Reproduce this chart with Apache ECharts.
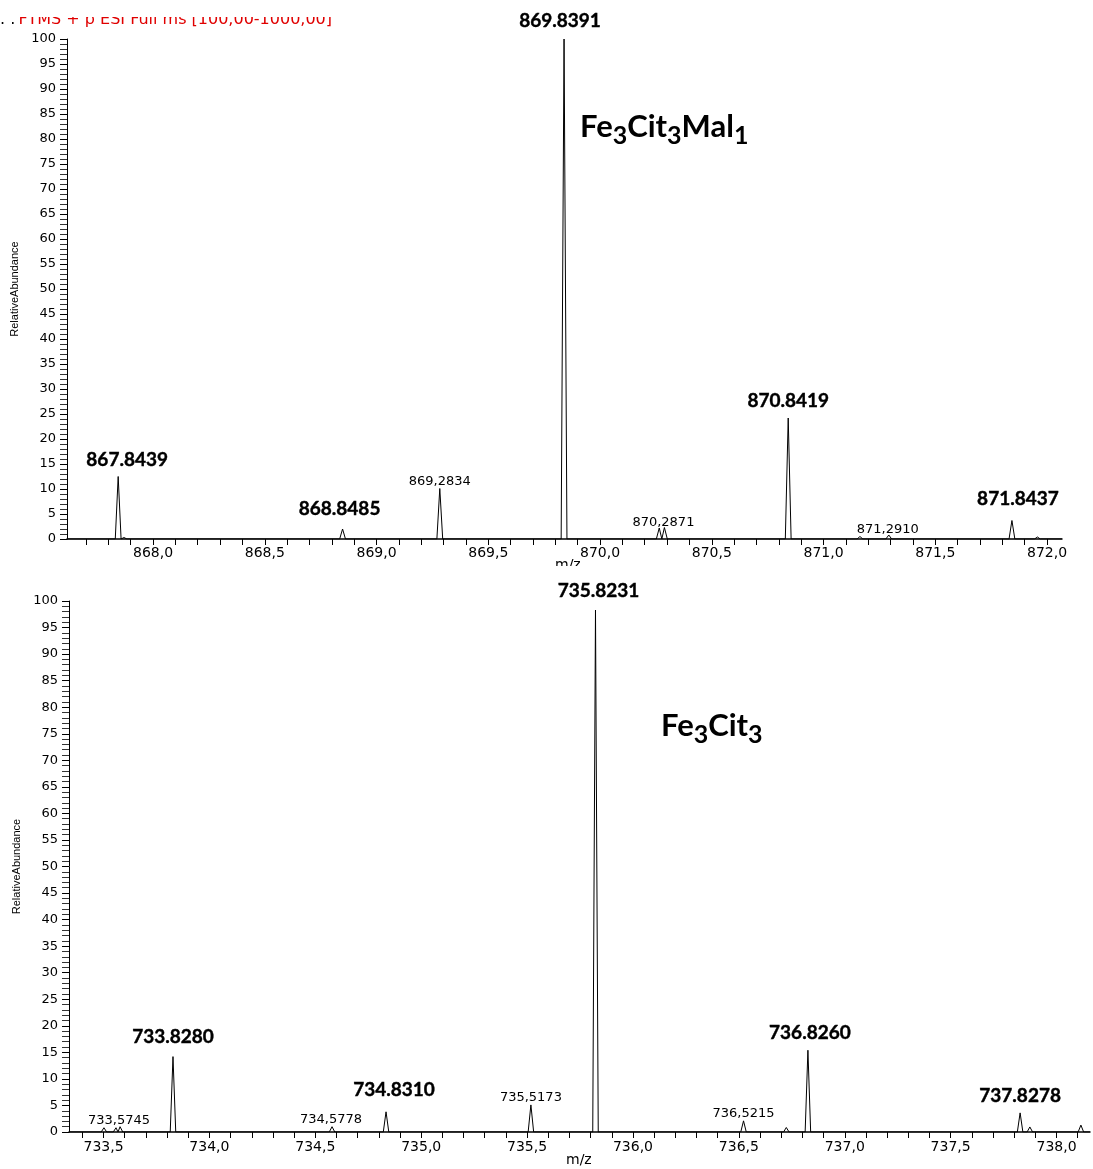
<!DOCTYPE html>
<html><head><meta charset="utf-8">
<script src="https://cdn.jsdelivr.net/npm/echarts@6/dist/echarts.min.js"></script>
<style>html,body{margin:0;padding:0;background:#fff}#c{width:1093px;height:1169px}</style>
</head><body><div id="c"></div>
<script>
// ---------- DATA ----------
const topPeakMz    = [867.844, 867.870, 868.848, 869.283, 869.839, 870.265, 870.288, 870.842, 871.163, 871.292, 871.843, 871.957];
const topPeakInt   = [12.5, 0.3, 2.0, 10.1, 100, 2.2, 2.3, 24.2, 0.5, 0.8, 3.7, 0.4];
const topPeakLabel = ['867.8439', '', '868.8485', '869,2834', '869.8391', '', '870,2871', '870.8419', '', '871,2910', '871.8437', ''];

const botPeakMz    = [733.502, 733.559, 733.578, 733.828, 734.579, 734.834, 735.518, 735.823, 736.522, 736.724, 736.826, 737.828, 737.874, 738.115];
const botPeakInt   = [0.8, 0.8, 1.0, 14.2, 1.0, 3.8, 5.1, 98.3, 2.1, 0.85, 15.4, 3.6, 0.95, 1.3];
const botPeakLabel = ['', '', '733,5745', '733.8280', '734,5778', '734.8310', '735,5173', '735.8231', '736,5215', '', '736.8260', '737.8278', '', ''];

const topTickLabels = [868.0, 868.5, 869.0, 869.5, 870.0, 870.5, 871.0, 871.5, 872.0];
const botTickLabels = [733.5, 734.0, 734.5, 735.0, 735.5, 736.0, 736.5, 737.0, 737.5, 738.0];

const topTitle = ['Fe', '3', 'Cit', '3', 'Mal', '1'];
const botTitle = ['Fe', '3', 'Cit', '3'];

// ---------- STYLE (label offsets: [dx, lift]) ----------
const topLabelOffset = [[9,7.5],null,[-3,11],[0,0.5],[-4,9],null,[-1,-1.5],[0,8],null,[-1,-1],[6,12.5],null];
const botLabelOffset = [null,null,[-1,0],[0,10.6],[-1,0.7],[8,12],[0,1],[3,10],[0,1],null,[2,8],[0,8],null,null];

const HW = 0.013;
function profile(mz, inten, lo, hi) {
  const idx = mz.map((m, i) => i).sort((a, b) => mz[a] - mz[b]);
  const pts = [[lo, 0]];
  idx.forEach((i, k) => {
    const c = mz[i], h = inten[i];
    const last = pts[pts.length - 1][0];
    if (c - HW > last) pts.push([c - HW, 0]);
    pts.push([c, h]);
    const nxt = k + 1 < idx.length ? mz[idx[k + 1]] : Infinity;
    if (c + HW < nxt - HW) pts.push([c + HW, 0]);
    else pts.push([(c + nxt) / 2, 0]);
  });
  pts.push([hi, 0]);
  return pts;
}
function labelData(mz, inten, labels, offs) {
  const out = [];
  labels.forEach((t, i) => {
    if (!t) return;
    const bold = t.indexOf('.') >= 0;
    const o = offs[i] || [0, 0];
    out.push({
      value: [mz[i], inten[i]],
      label: {
        show: true, position: 'top', distance: 0,
        offset: [o[0], -o[1]],
        formatter: t,
        color: '#000', opacity: 1,
        fontFamily: bold ? 'Lato' : 'DejaVu Sans',
        fontWeight: bold ? 'bold' : 'normal',
        fontSize: bold ? 19 : 13,
        textBorderColor: bold ? '#000' : 'transparent',
        textBorderWidth: bold ? 0.4 : 0
      }
    });
  });
  return out;
}
function minorTicks(a, b) { const r = []; for (let i = a; i <= b; i++) r.push(i / 10); return r; }
const fmt = v => Number(v).toFixed(1).replace('.', ',');

const topX = [867.615, 872.067];
const botX = [733.337, 738.158];

function xAxis(grid, range, labels, ticks, margin) {
  return {
    type: 'value', gridIndex: grid, min: range[0], max: range[1],
    axisLine: { show: true, onZero: false, lineStyle: { color: '#000', width: 1.5 } },
    axisTick: { show: true, customValues: ticks, length: 6, lineStyle: { color: '#000' } },
    axisLabel: { customValues: labels, formatter: fmt, fontFamily: 'DejaVu Sans', fontSize: 14, color: '#000', margin: margin },
    splitLine: { show: false }
  };
}
function yAxis(grid) {
  return {
    type: 'value', gridIndex: grid, min: 0, max: 100, interval: 5,
    axisLine: { show: true, lineStyle: { color: '#000' } },
    axisTick: { show: true, length: 7, lineStyle: { color: '#000' } },
    minorTick: { show: true, splitNumber: 5, length: 7, lineStyle: { color: '#333' } },
    axisLabel: { fontFamily: 'DejaVu Sans', fontSize: 13, color: '#000', margin: 11 },
    splitLine: { show: false }, minorSplitLine: { show: false },
    name: 'RelativeAbundance', nameLocation: 'middle', nameGap: 41,
    nameTextStyle: { fontFamily: 'Liberation Sans', fontSize: 11, color: '#000' }
  };
}
function richTitle(parts, left, top) {
  const text = parts.map((p, i) => i % 2 === 0 ? '{a|' + p + '}' : '{s|' + p + '}').join('');
  return {
    type: 'text', left: left, top: top, z: 10,
    style: {
      text: text,
      rich: {
        a: { fontFamily: 'Lato', fontWeight: 'bold', fontSize: 31, lineHeight: 37, verticalAlign: 'top', fill: '#000' },
        s: { fontFamily: 'Lato', fontWeight: 'bold', fontSize: 25, lineHeight: 22, verticalAlign: 'bottom', fill: '#000' }
      }
    }
  };
}

const chart = echarts.init(document.getElementById('c'), null, { renderer: 'canvas' });
chart.setOption({
  animation: false,
  backgroundColor: '#fff',
  grid: [
    { left: 67, top: 39, width: 995, height: 500 },
    { left: 69, top: 601, width: 1021, height: 531 }
  ],
  xAxis: [
    xAxis(0, topX, topTickLabels, minorTicks(8677, 8720), 7),
    xAxis(1, botX, botTickLabels, minorTicks(7334, 7381), 8)
  ],
  yAxis: [yAxis(0), yAxis(1)],
  series: [
    { type: 'line', xAxisIndex: 0, yAxisIndex: 0, data: profile(topPeakMz, topPeakInt, topX[0], topX[1]),
      showSymbol: false, lineStyle: { color: '#000', width: 1 }, clip: true, silent: true },
    { type: 'line', xAxisIndex: 1, yAxisIndex: 1, data: profile(botPeakMz, botPeakInt, botX[0], botX[1]),
      showSymbol: false, lineStyle: { color: '#000', width: 1 }, clip: true, silent: true },
    { type: 'scatter', xAxisIndex: 0, yAxisIndex: 0, symbolSize: 0, silent: true, z: 5,
      itemStyle: { opacity: 1 },
      data: labelData(topPeakMz, topPeakInt, topPeakLabel, topLabelOffset) },
    { type: 'scatter', xAxisIndex: 1, yAxisIndex: 1, symbolSize: 0, silent: true, z: 5,
      itemStyle: { opacity: 1 },
      data: labelData(botPeakMz, botPeakInt, botPeakLabel, botLabelOffset) }
  ],
  graphic: [
    { type: 'text', left: 0, top: 12, z: 1,
      style: { text: '{k|. .} {r|FTMS + p ESI Full ms [100,00-1000,00]}',
        rich: { k: { fill: '#000', fontFamily: 'DejaVu Sans', fontSize: 16 },
                r: { fill: '#e00000', fontFamily: 'DejaVu Sans', fontSize: 16 } } } },
    { type: 'rect', shape: { x: 0, y: 0, width: 345, height: 17 }, style: { fill: '#fff' }, z: 2 },
    { type: 'text', left: 555, top: 558, z: 1, style: { text: 'm/z', fill: '#000', fontFamily: 'DejaVu Sans', fontSize: 14 } },
    { type: 'rect', shape: { x: 540, y: 566, width: 60, height: 20 }, style: { fill: '#fff' }, z: 2 },
    { type: 'text', left: 566, top: 1153, z: 1, style: { text: 'm/z', fill: '#000', fontFamily: 'DejaVu Sans', fontSize: 14 } },
    richTitle(topTitle, 580, 111),
    richTitle(botTitle, 661, 710)
  ]
});
</script></body></html>
